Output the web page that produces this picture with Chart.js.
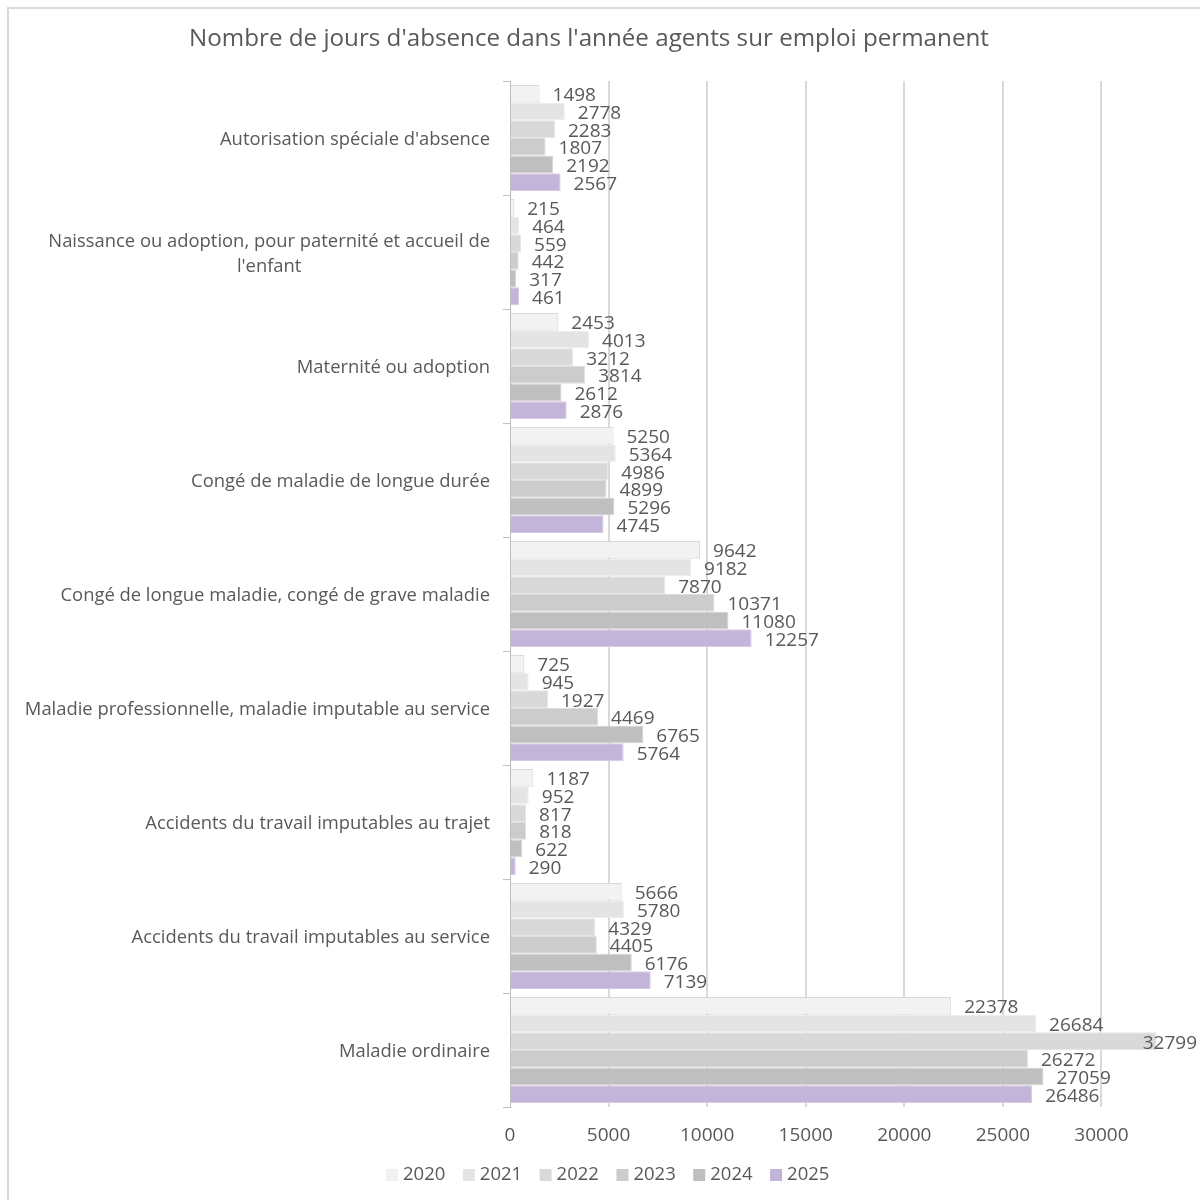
<!DOCTYPE html>
<html>
<head>
<meta charset="utf-8">
<script src="https://cdn.jsdelivr.net/npm/chart.js@4.4.1/dist/chart.umd.min.js"></script>
<style>
  body { margin: 0; background: #fff; overflow: hidden; }
  #wrap { position: relative; width: 1200px; height: 1200px; }
  #frame { position: absolute; left: 7px; top: 7px; width: 1300px; height: 1300px;
           border: 2px solid #d9d9d9; box-sizing: border-box; pointer-events: none; }
  canvas { position: absolute; left: 0; top: 0; }
</style>
</head>
<body>
<div id="wrap">
  <canvas id="chart" width="1200" height="1200"></canvas>
  <div id="frame"></div>
</div>
<script>
// categories, top to bottom
const categories = [
  "Autorisation spéciale d'absence",
  ["Naissance ou adoption, pour paternité et accueil de", "l'enfant"],
  "Maternité ou adoption",
  "Congé de maladie de longue durée",
  "Congé de longue maladie, congé de grave maladie",
  "Maladie professionnelle, maladie imputable au service",
  "Accidents du travail imputables au trajet",
  "Accidents du travail imputables au service",
  "Maladie ordinaire"
];
const years = ['2020', '2021', '2022', '2023', '2024', '2025'];

const v2020 = [1498, 215, 2453, 5250, 9642, 725, 1187, 5666, 22378];
const v2021 = [2778, 464, 4013, 5364, 9182, 945, 952, 5780, 26684];
const v2022 = [2283, 559, 3212, 4986, 7870, 1927, 817, 4329, 32799];
const v2023 = [1807, 442, 3814, 4899, 10371, 4469, 818, 4405, 26272];
const v2024 = [2192, 317, 2612, 5296, 11080, 6765, 622, 6176, 27059];
const v2025 = [2567, 461, 2876, 4745, 12257, 5764, 290, 7139, 26486];
const series = [v2020, v2021, v2022, v2023, v2024, v2025];

const colors = ['#f2f2f2', '#e4e4e4', '#d9d9d9', '#cccccc', '#bfbfbf', '#c3b4d9'];
const borders = ['#d9d9d9', '#eeeeee', '#e6e6e6', '#dddddd', '#d2d2d2', '#d6cce6'];

const FONT = "'Open Sans', sans-serif";
const TEXT = '#595959';

// value labels at bar ends
const valueLabels = {
  id: 'valueLabels',
  afterDatasetsDraw(chart) {
    const ctx = chart.ctx;
    ctx.save();
    ctx.font = '19px ' + FONT;
    ctx.fillStyle = TEXT;
    ctx.textAlign = 'left';
    ctx.textBaseline = 'middle';
    chart.data.datasets.forEach((ds, i) => {
      const meta = chart.getDatasetMeta(i);
      meta.data.forEach((bar, j) => {
        const txt = String(ds.data[j]);
        const w = ctx.measureText(txt).width;
        let x = bar.x + 13;
        if (x + w > 1197) x = 1197 - w;
        ctx.fillText(txt, x, bar.y + 2);
      });
    });
    ctx.restore();
  }
};

// category labels, title and legend
const extras = {
  id: 'extras',
  afterDraw(chart) {
    const ctx = chart.ctx;
    const y = chart.scales.y;
    ctx.save();
    ctx.fillStyle = TEXT;
    ctx.textBaseline = 'middle';
    ctx.font = '18.4px ' + FONT;
    categories.forEach((lab, i) => {
      const cy = y.getPixelForValue(i) + 2;
      if (Array.isArray(lab)) {
        const maxW = Math.max(...lab.map(l => ctx.measureText(l).width));
        ctx.textAlign = 'center';
        const lh = 25;
        lab.forEach((l, k) => {
          ctx.fillText(l, 490 - maxW / 2, cy + (k - (lab.length - 1) / 2) * lh);
        });
      } else {
        ctx.textAlign = 'right';
        ctx.fillText(lab, 490, cy);
      }
    });

    // title
    ctx.textAlign = 'center';
    ctx.font = '24.2px ' + FONT;
    ctx.fillText("Nombre de jours d'absence dans l'année agents sur emploi permanent", 589, 39);

    // legend
    ctx.font = '18.5px ' + FONT;
    ctx.textAlign = 'left';
    let lx = 386;
    const ly = 1175;
    years.forEach((yr, i) => {
      ctx.fillStyle = colors[i];
      ctx.fillRect(lx, ly - 6, 12, 12);
      ctx.fillStyle = TEXT;
      ctx.fillText(yr, lx + 17, ly);
      lx += 17 + ctx.measureText(yr).width + 17.5;
    });
    ctx.restore();
  }
};

new Chart(document.getElementById('chart'), {
  type: 'bar',
  data: {
    labels: categories.map(c => Array.isArray(c) ? c.join(' ') : c),
    datasets: years.map((yr, i) => ({
      label: yr,
      data: series[i],
      backgroundColor: colors[i],
      borderColor: borders[i],
      borderWidth: 1,
      barPercentage: 1,
      categoryPercentage: 0.93
    }))
  },
  options: {
    indexAxis: 'y',
    responsive: false,
    animation: false,
    layout: { padding: { left: 503, top: 81, right: 0, bottom: 55 } },
    plugins: {
      legend: { display: false },
      title: { display: false },
      tooltip: { enabled: false }
    },
    scales: {
      x: {
        min: 0,
        max: 35000,
        afterFit(scale) {
          scale.height = 38;
          scale.paddingLeft = 0;
          scale.paddingRight = 0;
        },
        ticks: {
          stepSize: 5000,
          color: TEXT,
          font: { family: FONT, size: 19 },
          padding: 0,
          maxRotation: 0,
          callback: v => v > 30000 ? '' : v
        },
        grid: {
          color: ctx => ctx.tick && (ctx.tick.value === 0 || ctx.tick.value > 30000) ? 'rgba(0,0,0,0)' : '#d9d9d9',
          lineWidth: 2,
          drawTicks: true,
          tickLength: 17,
          tickColor: 'rgba(0,0,0,0)'
        },
        border: { display: false }
      },
      y: {
        ticks: { display: false },
        grid: {
          drawOnChartArea: false,
          drawTicks: true,
          tickLength: 7,
          color: '#bfbfbf',
          lineWidth: 1
        },
        border: { display: true, color: '#bfbfbf', width: 1 }
      }
    }
  },
  plugins: [valueLabels, extras]
});
</script>
</body>
</html>
